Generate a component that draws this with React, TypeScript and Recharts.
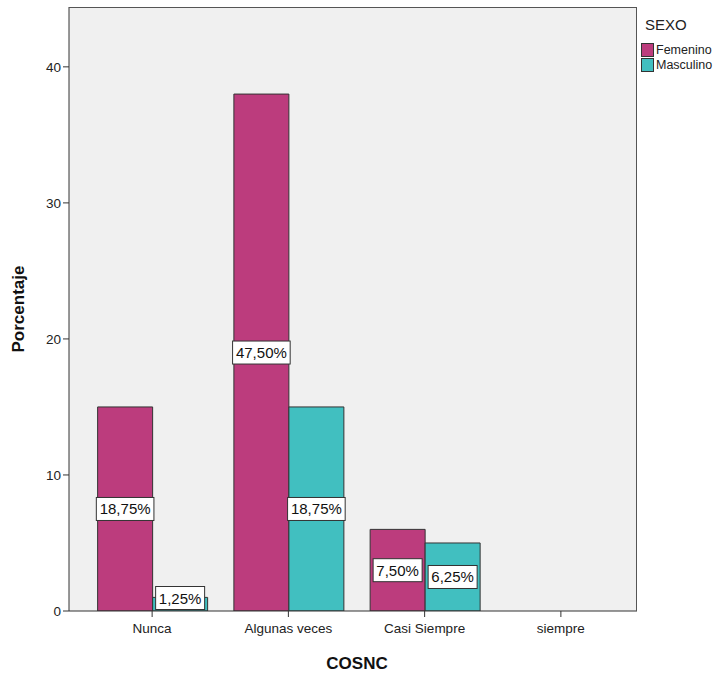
import React from 'react';
import { BarChart, Bar, XAxis, YAxis, LabelList, CartesianGrid } from 'recharts';

const categories = ['Nunca', 'Algunas veces', 'Casi Siempre', 'siempre'];
const femenino = [15, 38, 6, 0];
const masculino = [1, 15, 5, 0];
const femeninoLabels = ['18,75%', '47,50%', '7,50%', ''];
const masculinoLabels = ['1,25%', '18,75%', '6,25%', ''];
const yTicks = [0, 10, 20, 30, 40];
const seriesNames = ['Femenino', 'Masculino'];

const data = categories.map((c, i) => ({
  cat: c,
  Femenino: femenino[i],
  Masculino: masculino[i],
  fLabel: femeninoLabels[i],
  mLabel: masculinoLabels[i],
}));

const FONT = '"Liberation Sans", Arial, sans-serif';
const F_COLOR = '#BC3C7D';
const M_COLOR = '#41BFC0';
const COLORS = [F_COLOR, M_COLOR];

const BoxLabel = (props: any) => {
  const { x, y, width, height, value } = props;
  if (!value) return null;
  const cx = x + width / 2;
  const cy = Math.min(y + height / 2, y + height - 13);
  const w = value.length * 8.6 + 6;
  const h = 23;
  return (
    <g>
      <rect x={cx - w / 2} y={cy - h / 2} width={w} height={h} fill="#fff" stroke="#333" strokeWidth={1} />
      <text x={cx} y={cy + 5.5} textAnchor="middle" fontSize={15} fontFamily={FONT} fill="#111">
        {value}
      </text>
    </g>
  );
};

export default function App() {
  return (
    <div style={{ position: 'fixed', left: 0, top: 0, width: 726, height: 675, background: '#fff' }}>
      <BarChart
        width={726}
        height={675}
        data={data}
        margin={{ top: 7, right: 89, left: 0, bottom: 0 }}
        barCategoryGap="10%"
        barGap={0}
      >
        <CartesianGrid fill="#F0F0F0" horizontal={false} vertical={false} stroke="none" />
        <XAxis
          dataKey="cat"
          height={64}
          padding={{ left: 15, right: 8 }}
          tickLine={{ stroke: '#333' }}
          tickSize={6}
          axisLine={{ stroke: '#333' }}
          tick={{ fontSize: 13.5, fill: '#222', fontFamily: FONT }}
          tickMargin={6}
          label={{ value: 'COSNC', position: 'insideBottom', offset: 6, dx: 4, fontSize: 17, fontWeight: 'bold', fill: '#111', fontFamily: FONT }}
        />
        <YAxis
          width={69}
          domain={[0, 44.4]}
          ticks={yTicks}
          allowDataOverflow
          tickLine={{ stroke: '#333' }}
          tickSize={6}
          axisLine={{ stroke: '#333' }}
          tick={{ fontSize: 13.5, fill: '#222', fontFamily: FONT }}
          tickMargin={2}
          label={{ value: 'Porcentaje', angle: -90, position: 'insideLeft', offset: 18, fontSize: 17, fontWeight: 'bold', fill: '#111', fontFamily: FONT, style: { textAnchor: 'middle' } }}
        />
        <Bar dataKey="Femenino" fill={F_COLOR} stroke="#333" strokeWidth={1} isAnimationActive={false}>
          <LabelList dataKey="fLabel" content={<BoxLabel />} />
        </Bar>
        <Bar dataKey="Masculino" fill={M_COLOR} stroke="#333" strokeWidth={1} isAnimationActive={false}>
          <LabelList dataKey="mLabel" content={<BoxLabel />} />
        </Bar>
      </BarChart>
      <div style={{ position: 'absolute', left: 69, top: 7, width: 568, height: 604, border: '1px solid #555', borderBottom: 'none', borderLeft: 'none', boxSizing: 'border-box', pointerEvents: 'none' }} />
      <div style={{ position: 'absolute', left: 641, top: 16, fontFamily: FONT, color: '#222' }}>
        <div style={{ fontSize: 15, marginLeft: 4, marginBottom: 9 }}>SEXO</div>
        {seriesNames.map((n, i) => (
          <div key={n} style={{ display: 'flex', alignItems: 'center', height: 15, fontSize: 12.5 }}>
            <span style={{ display: 'inline-block', width: 11, height: 12, background: COLORS[i], border: '1px solid #333', marginRight: 2 }} />
            {n}
          </div>
        ))}
      </div>
    </div>
  );
}
